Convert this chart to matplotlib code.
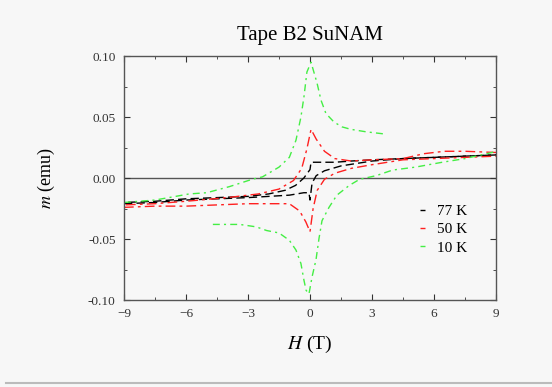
import matplotlib
matplotlib.use("Agg")
import matplotlib.pyplot as plt
from matplotlib.lines import Line2D
from matplotlib.ticker import MultipleLocator, FormatStrFormatter

# ---- data (H in T, m in emu) ----
labels = ["77 K", "50 K", "10 K"]
colors = ["black", "#ff2020", "#44ee44"]

# 77 K
h77_up = [9, 7.5, 6, 4.5, 3, 2, 1.2, 0.7, 0.05, 0.0, -0.3, -0.7, -1.2, -2, -3, -4.5, -6, -7.5, -9]
m77_up = [0.019, 0.018, 0.017, 0.016, 0.015, 0.014, 0.013, 0.013, 0.013, 0.007, 0.0, -0.006, -0.010, -0.013, -0.015, -0.016, -0.017, -0.019, -0.020]
h77_dn = [-9, -7.5, -6, -4.5, -3, -2, -1, -0.3, -0.05, 0.0, 0.1, 0.3, 0.7, 1.5, 3, 4.5, 6, 7.5, 9]
m77_dn = [-0.021, -0.020, -0.018, -0.017, -0.016, -0.015, -0.014, -0.012, -0.012, -0.018, -0.004, 0.002, 0.006, 0.010, 0.014, 0.016, 0.017, 0.018, 0.019]

# 50 K
h50_up = [9, 7.5, 6.5, 5.5, 4.5, 3, 2, 1.2, 0.7, 0.3, 0.05, -0.15, -0.4, -0.8, -1.5, -2.5, -4, -6, -7.5, -9]
m50_up = [0.021, 0.022, 0.022, 0.020, 0.016, 0.015, 0.014, 0.016, 0.022, 0.032, 0.040, 0.024, 0.008, -0.002, -0.009, -0.013, -0.016, -0.019, -0.021, -0.022]
h50_dn = [-9, -7.5, -6, -4.5, -3, -2, -1, -0.5, -0.2, 0.0, 0.15, 0.35, 0.7, 1.2, 2, 3, 4.5, 6, 7.5, 9]
m50_dn = [-0.024, -0.023, -0.023, -0.022, -0.021, -0.021, -0.021, -0.027, -0.036, -0.044, -0.025, -0.010, -0.001, 0.004, 0.008, 0.011, 0.015, 0.016, 0.017, 0.018]

# 10 K
h10_a = [-9, -7.5, -6.5, -5.85, -5.0, -3.9, -2.8, -2.3, -1.5, -1.0, -0.68, -0.44, -0.29, -0.15, 0.05, 0.34, 0.53, 0.77, 1.16, 1.55, 1.98, 2.7, 3.7]
m10_a = [-0.020, -0.018, -0.015, -0.013, -0.012, -0.007, -0.001, 0.001, 0.009, 0.017, 0.031, 0.050, 0.067, 0.087, 0.095, 0.078, 0.064, 0.053, 0.046, 0.042, 0.040, 0.038, 0.036]
h10_b = [-4.7, -3.4, -2.6, -2.1, -1.5, -1.0, -0.68, -0.44, -0.29, -0.19, -0.05, 0.1, 0.29, 0.44, 0.58, 0.92, 1.3, 1.9, 2.4, 3.2, 4.0, 5.1, 6.4, 7.5, 8.8, 9.0]
m10_b = [-0.038, -0.038, -0.040, -0.043, -0.045, -0.051, -0.059, -0.070, -0.084, -0.092, -0.095, -0.081, -0.067, -0.049, -0.035, -0.024, -0.014, -0.006, -0.001, 0.002, 0.0066, 0.009, 0.013, 0.016, 0.021, 0.022]

xticks = [-9, -6, -3, 0, 3, 6, 9]
yticks = [-0.10, -0.05, 0.00, 0.05, 0.10]

plt.rcParams['font.family'] = ['Liberation Serif', 'DejaVu Serif']
plt.rcParams['mathtext.fontset'] = 'stix'
bg = "#f7f7f7"
fig = plt.figure(figsize=(5.52, 3.87), dpi=100, facecolor=bg)
ax = fig.add_axes([0.2246, 0.2248, 0.674, 0.630])
ax.set_facecolor(bg)

ax.axhline(0, color="#555555", lw=1.0, zorder=1)

ls77 = (0, (6, 3))
ls50 = (0, (7, 3, 2, 3))
ls10 = (0, (5, 3, 1.5, 3))
ax.plot(h77_up, m77_up, color=colors[0], lw=1.0, ls=ls77, label=labels[0])
ax.plot(h77_dn, m77_dn, color=colors[0], lw=1.0, ls=ls77)
ax.plot(h50_up, m50_up, color=colors[1], lw=1.0, ls=ls50, label=labels[1])
ax.plot(h50_dn, m50_dn, color=colors[1], lw=1.0, ls=ls50)
ax.plot(h10_a, m10_a, color=colors[2], lw=1.0, ls=ls10, label=labels[2])
ax.plot(h10_b, m10_b, color=colors[2], lw=1.0, ls=ls10)

ax.set_xlim(-9, 9)
ax.set_ylim(-0.10, 0.10)
ax.set_xticks(xticks)
ax.set_yticks(yticks)
ax.xaxis.set_minor_locator(MultipleLocator(1.5))
ax.yaxis.set_minor_locator(MultipleLocator(0.025))
ax.yaxis.set_major_formatter(FormatStrFormatter('%.2f'))
ax.tick_params(which='both', direction='in', top=True, right=True, labelsize=9.5, colors="#333333")
ax.tick_params(which='major', length=4, pad=6)
ax.tick_params(which='minor', length=2)
for s in ax.spines.values():
    s.set_color("#555555")
    s.set_linewidth(1.0)

ax.set_xlabel(r"$H$ (T)", fontsize=14, labelpad=10)
ax.set_ylabel(r"$m$ (emu)", fontsize=13, labelpad=22)
ax.set_title("Tape B2 SuNAM", fontsize=15, pad=12)

leg = ax.legend(loc='lower right', bbox_to_anchor=(0.96, 0.13), frameon=False,
                fontsize=11, handlelength=0.3, handletextpad=0.8, labelspacing=0.3)

fig.add_artist(Line2D([0.01, 1.0], [0.01, 0.01], color="#bbbbbb", lw=1.5, transform=fig.transFigure))

fig.savefig("out.png", dpi=100, facecolor=bg)
